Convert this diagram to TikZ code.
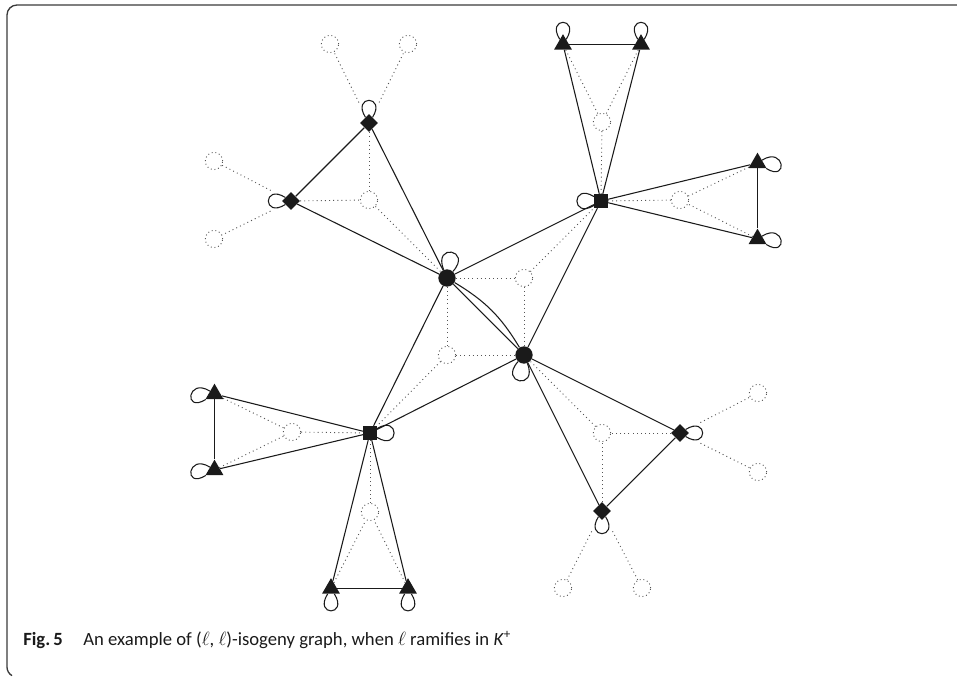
\documentclass[tikz,border=0pt]{standalone}
\usepackage{fontspec}
\setmainfont{Carlito}
\usetikzlibrary{shapes.geometric}
\definecolor{ink}{HTML}{1A1A1A}
\definecolor{dotgray}{HTML}{555555}
\definecolor{framecol}{HTML}{3A3A3A}
\begin{document}
\begin{tikzpicture}[x=0.75pt,y=0.75pt,
  vcirc/.style={circle,fill=ink,draw=none,inner sep=0pt,minimum size=13pt},
  vsq/.style={rectangle,fill=ink,draw=none,inner sep=0pt,minimum size=10.3pt},
  vdia/.style={diamond,fill=ink,draw=none,inner sep=0pt,minimum width=13.5pt,minimum height=13.5pt},
  vtri/.style={regular polygon,regular polygon sides=3,fill=ink,draw=none,inner sep=0pt,minimum size=15.5pt},
  hid/.style={circle,draw=dotgray,line width=0.7pt,dash pattern=on 0.7pt off 2.1pt,inner sep=0pt,minimum size=13pt},
  sol/.style={draw=ink,line width=0.8pt},
  dotedge/.style={draw=dotgray,line width=0.7pt,dash pattern=on 0.7pt off 2.4pt},
  lp/.style={draw=ink,line width=0.8pt,looseness=1,min distance=20pt}
]
\useasboundingbox (0,0) rectangle (957,-677);
% frame
\draw[framecol,line width=1pt] (957,-5) -- (17,-5) arc[start angle=90,end angle=180,radius=10] -- (7,-667) arc[start angle=180,end angle=240,radius=10];

% vertices
\node[vcirc] (C1) at (447,-278) {};
\node[vcirc] (C2) at (524,-355) {};
\node[vdia] (D1) at (369,-123) {};
\node[vdia] (D2) at (291,-201) {};
\node[vdia] (D3) at (680,-433) {};
\node[vdia] (D4) at (602,-511) {};
\node[vsq] (S1) at (601,-201) {};
\node[vsq] (S2) at (370,-433) {};
\node[vtri] (T1) at (563,-44.5) {};
\node[vtri] (T2) at (641,-44.5) {};
\node[vtri] (T3) at (757.5,-163) {};
\node[vtri] (T4) at (757.5,-239) {};
\node[vtri] (T5) at (214.5,-394) {};
\node[vtri] (T6) at (214.5,-470) {};
\node[vtri] (T7) at (331,-588.5) {};
\node[vtri] (T8) at (408,-588.5) {};
% hidden (dotted) vertices
\node[hid] (H1) at (369,-200) {};
\node[hid] (H2) at (602,-122) {};
\node[hid] (H3) at (680,-200) {};
\node[hid] (H4) at (524,-278) {};
\node[hid] (H5) at (447,-355) {};
\node[hid] (H6) at (292,-432) {};
\node[hid] (H7) at (370,-512) {};
\node[hid] (H8) at (602,-433) {};
\node[hid] (E1) at (330,-44) {};
\node[hid] (E2) at (408,-44) {};
\node[hid] (E3) at (214,-161) {};
\node[hid] (E4) at (214,-239) {};
\node[hid] (E5) at (758,-393) {};
\node[hid] (E6) at (758,-472) {};
\node[hid] (E7) at (563,-588) {};
\node[hid] (E8) at (642,-588) {};

% dotted edges
\draw[dotedge] (D1) -- (H1);
\draw[dotedge] (D2) -- (H1);
\draw[dotedge] (H1) -- (C1);
\draw[dotedge] (T1) -- (H2);
\draw[dotedge] (T2) -- (H2);
\draw[dotedge] (H2) -- (S1);
\draw[dotedge] (T3) -- (H3);
\draw[dotedge] (T4) -- (H3);
\draw[dotedge] (H3) -- (S1);
\draw[dotedge] (C1) -- (H4);
\draw[dotedge] (H4) -- (C2);
\draw[dotedge] (H4) -- (S1);
\draw[dotedge] (C1) -- (H5);
\draw[dotedge] (H5) -- (C2);
\draw[dotedge] (H5) -- (S2);
\draw[dotedge] (T5) -- (H6);
\draw[dotedge] (T6) -- (H6);
\draw[dotedge] (H6) -- (S2);
\draw[dotedge] (T7) -- (H7);
\draw[dotedge] (T8) -- (H7);
\draw[dotedge] (H7) -- (S2);
\draw[dotedge] (D3) -- (H8);
\draw[dotedge] (D4) -- (H8);
\draw[dotedge] (H8) -- (C2);
\draw[dotedge,shorten <=12pt] (D1) -- (E1);
\draw[dotedge,shorten <=12pt] (D1) -- (E2);
\draw[dotedge,shorten <=12pt] (D2) -- (E3);
\draw[dotedge,shorten <=12pt] (D2) -- (E4);
\draw[dotedge,shorten <=12pt] (D3) -- (E5);
\draw[dotedge,shorten <=12pt] (D3) -- (E6);
\draw[dotedge,shorten <=12pt] (D4) -- (E7);
\draw[dotedge,shorten <=12pt] (D4) -- (E8);

% solid edges
\draw[sol] (D1) -- (D2);
\draw[sol] (D1) -- (C1);
\draw[sol] (D2) -- (C1);
\draw[sol] (T1) -- (T2);
\draw[sol] (T1) -- (S1);
\draw[sol] (T2) -- (S1);
\draw[sol] (T3) -- (T4);
\draw[sol] (T3) -- (S1);
\draw[sol] (T4) -- (S1);
\draw[sol] (C1) -- (S1);
\draw[sol] (C2) -- (S1);
\draw[sol] (C1) -- (C2);
\draw[sol] (C1) to[bend left=14] (C2);
\draw[sol] (C1) -- (S2);
\draw[sol] (C2) -- (S2);
\draw[sol] (T5) -- (T6);
\draw[sol] (T5) -- (S2);
\draw[sol] (T6) -- (S2);
\draw[sol] (T7) -- (T8);
\draw[sol] (T7) -- (S2);
\draw[sol] (T8) -- (S2);
\draw[sol] (D3) -- (D4);
\draw[sol] (D3) -- (C2);
\draw[sol] (D4) -- (C2);

% loops
\draw[lp] (D1) to[out=122,in=58] (D1);
\draw[lp] (D2) to[out=212,in=148] (D2);
\draw[lp] (D3) to[out=32,in=-32] (D3);
\draw[lp] (D4) to[out=-58,in=-122] (D4);
\draw[lp,min distance=22pt] (C1) to[out=112,in=48] (C1);
\draw[lp,min distance=22pt] (C2) to[out=-68,in=-132] (C2);
\draw[lp] (S1) to[out=212,in=148] (S1);
\draw[lp] (S2) to[out=32,in=-32] (S2);
\draw[lp] (T1) to[out=122,in=58] (T1);
\draw[lp] (T2) to[out=122,in=58] (T2);
\draw[lp] (T3) to[out=32,in=-32] (T3);
\draw[lp] (T4) to[out=32,in=-32] (T4);
\draw[lp] (T5) to[out=212,in=148] (T5);
\draw[lp] (T6) to[out=212,in=148] (T6);
\draw[lp] (T7) to[out=-58,in=-122] (T7);
\draw[lp] (T8) to[out=-58,in=-122] (T8);

% caption
\node[anchor=base west,inner sep=0pt,font=\fontsize{14pt}{16pt}\selectfont,text=ink] (cap) at (23,-645)
  {\textbf{Fig.\,5}\hspace{1.1em}An example of ($\ell$, $\ell$)-isogeny graph, when $\ell$ ramifies in \textit{K}\textsuperscript{+}};
\end{tikzpicture}
\end{document}
